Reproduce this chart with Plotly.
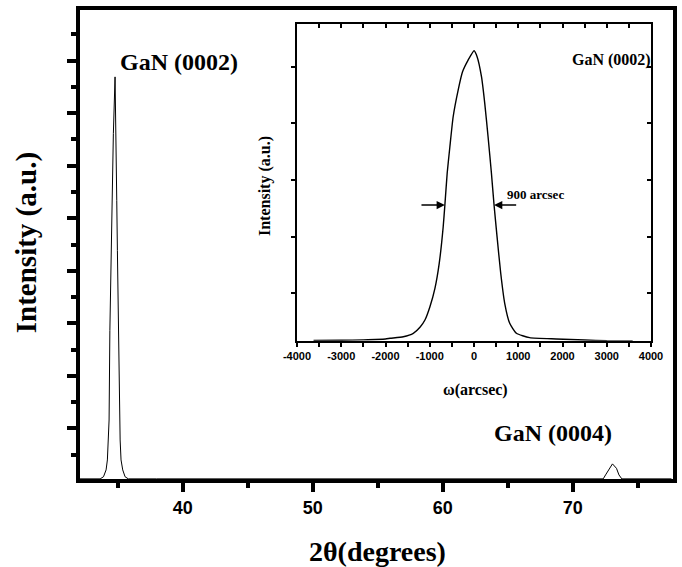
import plotly.graph_objects as go

# ---------------- data ----------------
# main XRD 2theta scan (degrees, arbitrary intensity)
main_2theta = [32.1, 33.0, 33.65, 33.91, 34.11, 34.21, 34.29, 34.34, 34.40, 34.50, 34.60, 34.67,
               34.80, 34.88, 34.93, 34.98, 35.07, 35.13, 35.19, 35.26, 35.39, 35.57, 35.82,
               38.0, 45.0, 55.0, 65.0, 72.0, 72.35, 72.53, 72.81, 73.06, 73.37, 73.56, 73.78,
               74.3, 77.6]
main_intensity = [0.08, 0.08, 0.08, 0.16, 0.42, 0.80, 1.56, 2.32, 5.73, 8.77, 10.67, 13.22,
                  15.38, 13.22, 10.67, 8.77, 5.73, 2.32, 1.56, 0.80, 0.42, 0.16, 0.08,
                  0.08, 0.08, 0.08, 0.08, 0.08, 0.08, 0.23, 0.48, 0.65, 0.48, 0.23, 0.08,
                  0.08, 0.08]

# inset rocking curve (omega in arcsec)
inset_omega = [-3626, -3000, -2500, -2000, -1897, -1598, -1372, -1221, -1109, -996, -883, -786,
               -696, -658, -606, -545, -471, -358, -259, -133, 2, 70, 169, 243, 318, 394, 453,
               521, 604, 694, 807, 958, 1257, 1859, 2500, 3000, 3586]
inset_intensity = [0.167, 0.171, 0.179, 0.194, 0.206, 0.234, 0.294, 0.400, 0.529, 0.764, 1.088,
                   1.529, 2.175, 2.558, 3.118, 3.587, 4.116, 4.587, 4.910, 5.116, 5.281, 5.175,
                   4.822, 4.353, 3.763, 3.118, 2.558, 1.999, 1.353, 0.824, 0.471, 0.294, 0.217,
                   0.194, 0.176, 0.162, 0.158]

inset_tick_values = [-4000, -3000, -2000, -1000, 0, 1000, 2000, 3000, 4000]
inset_tick_labels = ["-4000", "-3000", "-2000", "-1000", "0", "1000", "2000", "3000", "4000"]

# FWHM marker readings
fwhm_left = -658
fwhm_right = 453
half_level = 2.558
fwhm_label = "900 arcsec"

peak_labels = ["GaN (0002)", "GaN (0004)"]

W, H = 682, 567
SERIF = "Liberation Serif"
SANS = "Liberation Sans"


def px(x):
    return x / W


def py(y):
    return 1 - y / H


fig = go.Figure()
fig.add_trace(go.Scatter(x=main_2theta, y=main_intensity, mode="lines",
                         line=dict(color="black", width=1), xaxis="x", yaxis="y",
                         showlegend=False, hoverinfo="skip"))
fig.add_trace(go.Scatter(x=inset_omega, y=inset_intensity, mode="lines",
                         line=dict(color="black", width=1.4, shape="spline", smoothing=0.5),
                         xaxis="x2", yaxis="y2", showlegend=False, hoverinfo="skip"))
# invisible trace to activate the inner-tick overlay axes of the inset
fig.add_trace(go.Scatter(x=inset_omega, y=inset_intensity, mode="lines",
                         line=dict(color="rgba(0,0,0,0)", width=0), xaxis="x3", yaxis="y3",
                         showlegend=False, hoverinfo="skip"))

main_x_dom = [px(79.7), px(673.3)]
main_y_dom = [py(479.25), py(9.75)]
ins_x_dom = [px(297.0), px(651.0)]
ins_y_dom = [py(340.7), py(24.3)]

common = dict(showgrid=False, zeroline=False, automargin=False)

fig.update_layout(
    width=W, height=H, autosize=False, showlegend=False,
    margin=dict(l=0, r=0, t=0, b=0, pad=0, autoexpand=False),
    paper_bgcolor="white", plot_bgcolor="white",
    xaxis=dict(domain=main_x_dom, range=[32.08, 77.74], anchor="y",
               showline=True, linewidth=3.5, linecolor="black", mirror=True,
               ticks="outside", ticklen=9, tickwidth=3.5, tickcolor="black",
               tick0=0, dtick=10,
               tickfont=dict(family=SANS, size=18, color="black", weight="bold"),
               minor=dict(ticks="outside", ticklen=4.5, tickwidth=3.5, tickcolor="black",
                          tick0=0, dtick=5, showgrid=False),
               **common),
    yaxis=dict(domain=main_y_dom, range=[0.065, 17.935], anchor="x",
               showline=True, linewidth=3.5, linecolor="black", mirror=True,
               ticks="outside", ticklen=9, tickwidth=3.5, tickcolor="black",
               tick0=0, dtick=2, showticklabels=False,
               minor=dict(ticks="outside", ticklen=4.5, tickwidth=3.5, tickcolor="black",
                          tick0=0, dtick=1, showgrid=False),
               **common),
    xaxis2=dict(domain=ins_x_dom, range=[-4000, 4000], anchor="y2",
                showline=True, linewidth=2, linecolor="black", mirror=True,
                ticks="outside", ticklen=4, tickwidth=1.5, tickcolor="black",
                tickmode="array", tickvals=inset_tick_values, ticktext=inset_tick_labels,
                tickfont=dict(family=SANS, size=11, color="black", weight="bold"),
                minor=dict(ticks="outside", ticklen=4, tickwidth=1.5, tickcolor="black",
                           tick0=0, dtick=500, showgrid=False),
                **common),
    yaxis2=dict(domain=ins_y_dom, range=[0.1636, 5.747], anchor="x2",
                showline=True, linewidth=2, linecolor="black", mirror=True,
                ticks="outside", ticklen=4, tickwidth=1.5, tickcolor="black",
                tick0=0, dtick=1, showticklabels=False,
                **common),
    xaxis3=dict(overlaying="x2", side="top", anchor="y3", range=[-4000, 4000],
                showline=False, ticks="inside", ticklen=4, tickwidth=1.5, tickcolor="black",
                tick0=0, dtick=500, showticklabels=False,
                **common),
    yaxis3=dict(overlaying="y2", side="right", anchor="x3", range=[0.1636, 5.747],
                showline=False, ticks="inside", ticklen=4, tickwidth=1.5, tickcolor="black",
                tick0=0, dtick=1, showticklabels=False,
                **common),
)

ann = []
# axis titles
ann.append(dict(text="2θ(degrees)", x=px(377.5), y=py(551.7), xref="paper", yref="paper",
                xanchor="center", yanchor="middle", showarrow=False,
                font=dict(family=SERIF, size=28, color="black", weight="bold")))
ann.append(dict(text="Intensity (a.u.)", x=px(26.7), y=py(242.5), xref="paper", yref="paper",
                xanchor="center", yanchor="middle", showarrow=False, textangle=-90,
                font=dict(family=SERIF, size=29, color="black", weight="bold")))
ann.append(dict(text="ω(arcsec)", x=px(475), y=py(390), xref="paper", yref="paper",
                xanchor="center", yanchor="middle", showarrow=False,
                font=dict(family=SERIF, size=16, color="black", weight="bold")))
ann.append(dict(text="Intensity (a.u.)", x=px(265), y=py(186), xref="paper", yref="paper",
                xanchor="center", yanchor="middle", showarrow=False, textangle=-90,
                font=dict(family=SERIF, size=16, color="black", weight="bold")))
# peak labels
ann.append(dict(text=peak_labels[0], x=px(178.7), y=py(61.7), xref="paper", yref="paper",
                xanchor="center", yanchor="middle", showarrow=False,
                font=dict(family=SERIF, size=24, color="black", weight="bold")))
ann.append(dict(text=peak_labels[1], x=px(553), y=py(433), xref="paper", yref="paper",
                xanchor="center", yanchor="middle", showarrow=False,
                font=dict(family=SERIF, size=24, color="black", weight="bold")))
ann.append(dict(text=peak_labels[0], x=px(653), y=py(60), xref="paper", yref="paper",
                xanchor="right", yanchor="middle", showarrow=False,
                font=dict(family=SERIF, size=16, color="black", weight="bold")))
ann.append(dict(text=fwhm_label, x=px(535), y=py(194), xref="paper", yref="paper",
                xanchor="center", yanchor="middle", showarrow=False,
                font=dict(family=SERIF, size=13, color="black", weight="bold")))
# FWHM arrows
ann.append(dict(x=fwhm_left, y=half_level, ax=fwhm_left - 563, ay=half_level,
                xref="x2", yref="y2", axref="x2", ayref="y2", text="", showarrow=True,
                arrowhead=2, arrowsize=1.1, arrowwidth=1.5, arrowcolor="black", standoff=0))
ann.append(dict(x=fwhm_right, y=half_level, ax=fwhm_right + 534, ay=half_level,
                xref="x2", yref="y2", axref="x2", ayref="y2", text="", showarrow=True,
                arrowhead=2, arrowsize=1.1, arrowwidth=1.5, arrowcolor="black", standoff=0))
fig.update_layout(annotations=ann)

post_js = (
    "document.documentElement.style.margin='0';"
    "document.documentElement.style.padding='0';"
    "document.documentElement.style.overflow='hidden';"
    "document.body.style.margin='0';"
    "document.body.style.padding='0';"
    "document.body.style.overflow='hidden';"
    "var gd=document.getElementById('{plot_id}');"
    "Plotly.relayout(gd,{width:682,height:567,autosize:false});"
)

fig.write_html("out.html", config={"responsive": False, "displayModeBar": False},
               post_script=post_js)
